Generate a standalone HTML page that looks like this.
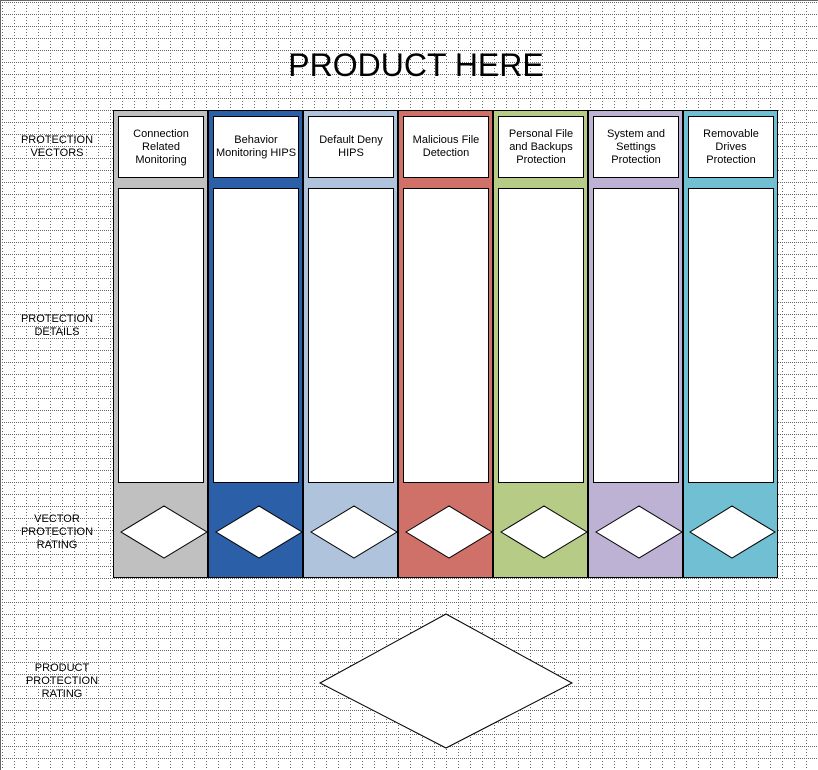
<!DOCTYPE html>
<html><head><meta charset="utf-8"><style>
body{margin:0;background:#fff}
svg{display:block}
text{font-family:"Liberation Sans",sans-serif}
</style></head><body>
<svg width="818" height="770" viewBox="0 0 818 770" xmlns="http://www.w3.org/2000/svg" shape-rendering="crispEdges">
<defs>
<pattern id="g" x="2" y="2" width="12" height="12" patternUnits="userSpaceOnUse">
<rect x="0" y="0" width="1" height="1" fill="#666"/>
<rect x="2" y="0" width="1" height="1" fill="#666"/>
<rect x="4" y="0" width="1" height="1" fill="#666"/>
<rect x="6" y="0" width="1" height="1" fill="#666"/>
<rect x="8" y="0" width="1" height="1" fill="#666"/>
<rect x="10" y="0" width="1" height="1" fill="#666"/>
<rect x="0" y="3" width="1" height="1" fill="#666"/>
<rect x="0" y="6" width="1" height="1" fill="#666"/>
<rect x="0" y="9" width="1" height="1" fill="#666"/>
</pattern>
</defs>
<rect width="818" height="770" fill="url(#g)"/>
<line x1="0.5" y1="0" x2="0.5" y2="770" stroke="#666"/>
<line x1="0" y1="0.5" x2="818" y2="0.5" stroke="#666"/>
<g shape-rendering="auto">
<text x="416" y="76" font-size="32" text-anchor="middle">PRODUCT HERE</text>
<g font-size="11" text-anchor="middle" fill="#000">
<text x="57" y="143">PROTECTION</text><text x="57" y="156">VECTORS</text>
<text x="57" y="322">PROTECTION</text><text x="57" y="335">DETAILS</text>
<text x="57" y="522">VECTOR</text><text x="57" y="535">PROTECTION</text><text x="57" y="548">RATING</text>
<text x="62" y="671">PRODUCT</text><text x="62" y="684">PROTECTION</text><text x="62" y="697">RATING</text>
</g>
</g>
<g stroke="#000" stroke-width="1">
<rect x="113.5" y="110.5" width="94" height="467" fill="#c0c0c0"/>
<rect x="208.5" y="110.5" width="94" height="467" fill="#2b5fa8"/>
<rect x="303.5" y="110.5" width="94" height="467" fill="#b0c3dc"/>
<rect x="398.5" y="110.5" width="94" height="467" fill="#cf7169"/>
<rect x="493.5" y="110.5" width="94" height="467" fill="#b6cc86"/>
<rect x="588.5" y="110.5" width="94" height="467" fill="#beb2d4"/>
<rect x="683.5" y="110.5" width="94" height="467" fill="#71bfd3"/>
</g>
<g stroke="#000" fill="#fff">
<rect x="118.5" y="116.5" width="85" height="61"/><rect x="118.5" y="188.5" width="85" height="294"/>
<rect x="213.5" y="116.5" width="85" height="61"/><rect x="213.5" y="188.5" width="85" height="294"/>
<rect x="308.5" y="116.5" width="85" height="61"/><rect x="308.5" y="188.5" width="85" height="294"/>
<rect x="403.5" y="116.5" width="85" height="61"/><rect x="403.5" y="188.5" width="85" height="294"/>
<rect x="498.5" y="116.5" width="85" height="61"/><rect x="498.5" y="188.5" width="85" height="294"/>
<rect x="593.5" y="116.5" width="85" height="61"/><rect x="593.5" y="188.5" width="85" height="294"/>
<rect x="688.5" y="116.5" width="85" height="61"/><rect x="688.5" y="188.5" width="85" height="294"/>
<g shape-rendering="auto">
<polygon points="121,532 164,506 207,532 164,558"/>
<polygon points="216,532 259,506 302,532 259,558"/>
<polygon points="311,532 354,506 397,532 354,558"/>
<polygon points="406,532 449,506 492,532 449,558"/>
<polygon points="501,532 544,506 587,532 544,558"/>
<polygon points="596,532 639,506 682,532 639,558"/>
<polygon points="690,532 732,506 775,532 732,558"/>
<polygon points="320,683 446,614 572,683 446,748"/>
</g>
</g>
<g font-size="11" text-anchor="middle" shape-rendering="auto">
<text x="161" y="137">Connection</text><text x="161" y="150">Related</text><text x="161" y="163">Monitoring</text>
<text x="256" y="143">Behavior</text><text x="256" y="156">Monitoring HIPS</text>
<text x="351" y="143">Default Deny</text><text x="351" y="156">HIPS</text>
<text x="446" y="143">Malicious File</text><text x="446" y="156">Detection</text>
<text x="541" y="137">Personal File</text><text x="541" y="150">and Backups</text><text x="541" y="163">Protection</text>
<text x="636" y="137">System and</text><text x="636" y="150">Settings</text><text x="636" y="163">Protection</text>
<text x="731" y="137">Removable</text><text x="731" y="150">Drives</text><text x="731" y="163">Protection</text>
</g>
</svg>
</body></html>
